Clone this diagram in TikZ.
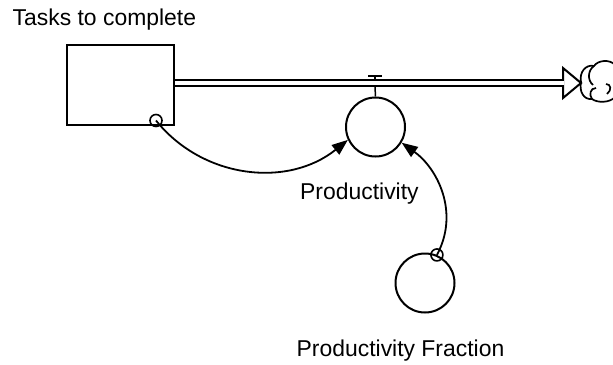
\documentclass[tikz,border=0pt]{standalone}
\usepackage{fontspec}
\setmainfont{Liberation Sans}
\usetikzlibrary{arrows.meta}
\begin{document}
\begin{tikzpicture}[x=1bp,y=-1bp,
  lw/.style={line width=2bp},
  auxc/.style={draw, circle, lw, minimum size=59bp, inner sep=0pt},
  tailc/.style={draw, circle, line width=1.6bp, minimum size=12bp, inner sep=0pt},
  lbl/.style={inner sep=0pt, anchor=base west, font=\fontsize{23}{27}\selectfont},
  link/.style={line width=1.8bp, -{Triangle[length=16bp,width=12bp]}},
  pipe/.style={line width=1.9bp, double=white, double distance=3.4bp},
]
\useasboundingbox (0,0) rectangle (613,364);
% labels
\node[lbl] (tlab) at (12.5,25) {Tasks to complete};
\node[lbl] (plab) at (300,199.3) {Productivity};
\node[lbl] (pflab) at (296.5,356) {Productivity Fraction};
% stock
\node[draw, lw, rectangle, minimum width=107bp, minimum height=80bp, inner sep=0pt] (stock) at (120.5,85) {};
% auxiliaries
\node[auxc] (prod) at (375.5,127) {};
\node[auxc] (pf) at (425,283) {};
% flow arrowhead and pipe
\coordinate (pipeend) at (564,83);
\filldraw[fill=white, lw, line join=miter] (563,68) -- (581,83) -- (563,98) -- cycle;
\draw[pipe] (stock.east |- pipeend) -- (pipeend);
% valve
\draw[lw] (368,75.5) -- (382,75.5);
\draw[line width=1.5bp] (375,75.5) -- (375,79);
\draw[line width=1.5bp] (375,87) -- (prod.north);
% cloud
\begin{scope}
\clip (575,50) rectangle (613,110);
\draw[line width=1.7bp]
  (581,82) .. controls (579,72) and (586,64) .. (594,66)
           .. controls (598,60) and (610,59) .. (615,65);
\draw[line width=1.7bp]
  (581,82) .. controls (579,92) and (584,100) .. (592,99)
           .. controls (597,103) and (610,103) .. (615,97);
\draw[line width=1.7bp] (594,66) .. controls (588,70) and (587,80) .. (593,85);
\draw[line width=1.7bp] (592,99) .. controls (589,95) and (590,88) .. (596,88);
\draw[line width=1.7bp] (606,84) .. controls (611,84) and (612,90) .. (607,94);
\end{scope}
% connectors
\coordinate (stail) at (156,120.5);
\node[tailc] (stailc) at (stail) {};
\node[tailc] (pftailc) at (pf.67) {};
\draw[link] (stailc.center) .. controls (203,179) and (288,188) .. (prod.205);
\draw[link] (pftailc.center) .. controls (460,212) and (437,168) .. (prod.-31);
\end{tikzpicture}
\end{document}
